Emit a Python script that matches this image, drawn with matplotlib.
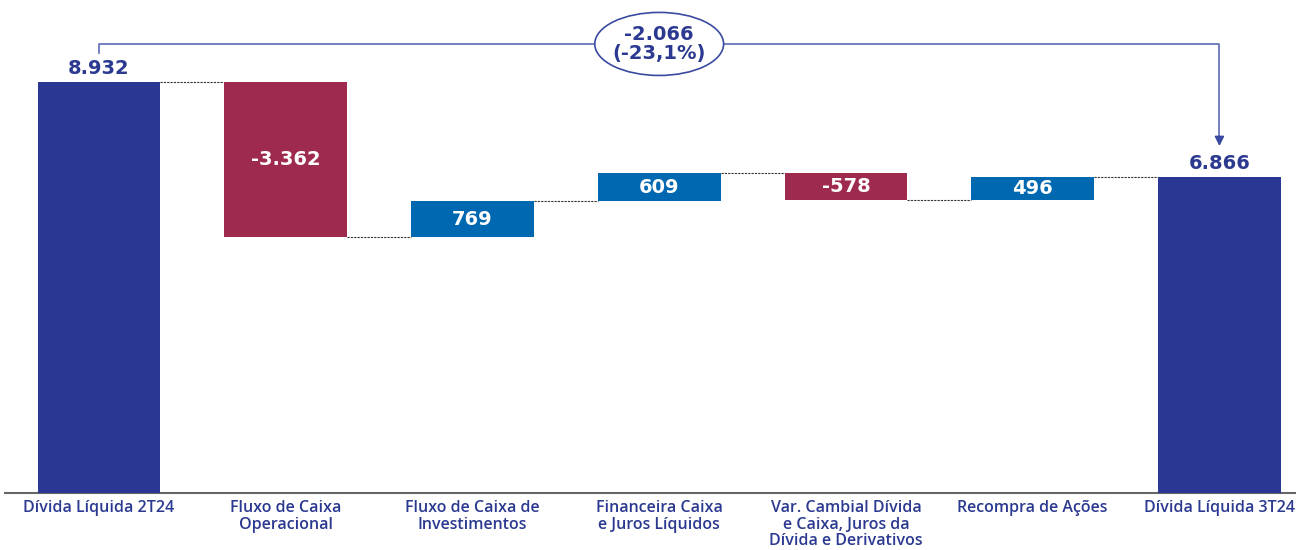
import numpy as np
import matplotlib
matplotlib.use('Agg')
import matplotlib.pyplot as plt
from matplotlib.patches import Ellipse

# ── data
categories = ['Dívida Líquida 2T24', 'Fluxo de Caixa\nOperacional',
              'Fluxo de Caixa de\nInvestimentos', 'Financeira Caixa\ne Juros Líquidos',
              'Var. Cambial Dívida\ne Caixa, Juros da\nDívida e Derivativos',
              'Recompra de Ações', 'Dívida Líquida 3T24']
values = [8932, -3362, 769, 609, -578, 496, 6866]
is_total = [True, False, False, False, False, False, True]
value_labels = ['8.932', '-3.362', '769', '609', '-578', '496', '6.866']
change_label = '-2.066\n(-23,1%)'

C_TOTAL = '#2A3894'
C_NEG = '#9E2B4D'
C_POS = '#0067B1'
C_TEXT = '#2B3990'

LBL_FONT = ['Open Sans', 'DejaVu Sans']
VAL_FONT = ['DejaVu Sans']

fig = plt.figure(figsize=(12.96, 5.5), dpi=100)
ax = fig.add_axes([5 / 1296, 57 / 550, 1 - 5 / 1296, 493 / 550])

x = np.arange(len(values))
W = 0.657

# running totals
bottoms, tops = [], []
run = 0
for v, tot in zip(values, is_total):
    if tot:
        b, t = 0, v
        run = v
    else:
        b, t = run, run + v
        run = run + v
    bottoms.append(min(b, t))
    tops.append(max(b, t))

for i, (v, tot) in enumerate(zip(values, is_total)):
    col = C_TOTAL if tot else (C_NEG if v < 0 else C_POS)
    ax.bar(x[i], tops[i] - bottoms[i], bottom=bottoms[i], width=W, color=col,
           edgecolor='none', zorder=3)
    if tot:
        ax.text(x[i], tops[i] + 90, value_labels[i], ha='center', va='bottom',
                color=C_TEXT, fontsize=14, fontweight='bold', family=VAL_FONT)
    else:
        ax.text(x[i], (tops[i] + bottoms[i]) / 2, value_labels[i], ha='center',
                va='center', color='white', fontsize=14, fontweight='bold',
                family=VAL_FONT, zorder=4)

# dotted connectors
run = 0
for i in range(len(values) - 1):
    run = values[i] if is_total[i] else run + values[i]
    ax.plot([x[i] + W / 2, x[i + 1] - W / 2], [run, run], color='#333333',
            lw=0.8, ls=(0, (2, 1)), zorder=2)

# bracket with total change
Y_BR = 9760
ax.plot([x[0], x[0], x[-1], x[-1]], [9560, Y_BR, Y_BR, 7650], color='#5C6BB5',
        lw=1.2, zorder=2)
ax.annotate('', xy=(x[-1], 7480), xytext=(x[-1], 7700),
            arrowprops=dict(arrowstyle='-|>', color='#3A4AA0', lw=1.2,
                            mutation_scale=14))
ell = Ellipse((3.0, Y_BR), width=0.69, height=1370, facecolor='white',
              edgecolor='#3A4AA0', lw=1.2, zorder=5)
ax.add_patch(ell)
ax.text(3.0, Y_BR, change_label, ha='center', va='center', color=C_TEXT,
        fontsize=14, fontweight='bold', family=VAL_FONT, linespacing=1.05, zorder=6)

ax.set_xlim(-0.503, 6.41)
ax.set_ylim(0, 10715)
ax.set_yticks([])
ax.set_xticks(x)
ax.set_xticklabels(categories, fontsize=11.5, color=C_TEXT, family=LBL_FONT,
                   fontweight='semibold', linespacing=1.05)
ax.tick_params(axis='x', length=0, pad=5)
for s in ['top', 'right', 'left']:
    ax.spines[s].set_visible(False)
ax.spines['bottom'].set_color('#666666')
ax.spines['bottom'].set_linewidth(1.5)

fig.savefig('out.png', dpi=100, facecolor='white')
